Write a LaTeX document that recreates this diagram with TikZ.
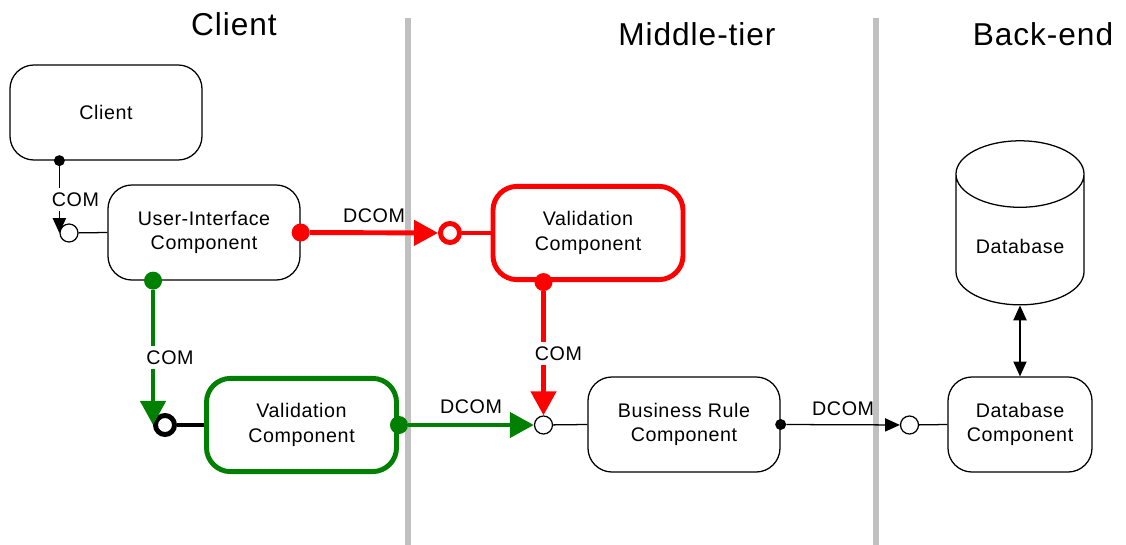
\documentclass[tikz,border=0pt]{standalone}
\usepackage{fontspec}
\setmainfont{Liberation Sans}[LetterSpace=3]
\usetikzlibrary{arrows.meta,shapes.geometric}
\definecolor{valred}{RGB}{255,0,0}
\definecolor{valgreen}{RGB}{0,128,0}
\definecolor{tiergray}{RGB}{192,192,192}

\begin{document}
\begin{tikzpicture}[
    x=0.025cm, y=-0.025cm,
    box/.style={draw, line width=0.9pt, rounded corners=0.6cm, minimum width=4.8cm, minimum height=2.375cm, font=\fontsize{14}{17.5}\selectfont, align=center},
    hotbox/.style={box, line width=3.5pt, minimum width=4.75cm, minimum height=2.33cm},
    tier/.style={font=\fontsize{22.5}{27}\selectfont},
    sep/.style={draw=tiergray, line width=4.3pt},
    lolly/.style={circle, draw, fill=white, line width=0.9pt, minimum size=0.45cm, inner sep=0pt},
    biglolly/.style={lolly, line width=3.5pt, minimum size=0.475cm},
    ball/.style={circle, fill, minimum size=0.275cm, inner sep=0pt},
    bigball/.style={ball, minimum size=0.45cm},
    lbl/.style={font=\fontsize{14}{17}\selectfont},
    wire/.style={line width=0.9pt},
    hotwire/.style={line width=3.5pt},
    comarrow/.style={wire, -{Triangle[length=0.37cm, width=0.33cm]}},
    hotarrow/.style={hotwire, -{Triangle[length=0.6cm, width=0.62cm]}},
]
\useasboundingbox (0,0) rectangle (1126,545);

% tiers
\draw[sep] (408,18) -- (408,545);
\draw[sep] (876,18) -- (876,545);
\node[tier] (hclient) at (234,24) {Client};
\node[tier] (hmiddle) at (697,34) {Middle-tier};
\node[tier] (hback) at (1043,34) {Back-end};

% components
\node[box] (client) at (106,112.5) {Client};
\node[box] (ui) at (204,232.5) {User-Interface\\Component};
\node[hotbox, draw=valred] (valmid) at (588,233) {Validation\\Component};
\node[hotbox, draw=valgreen] (valcli) at (301.5,425) {Validation\\Component};
\node[box] (rule) at (684,424.5) {Business Rule\\Component};
\node[box, minimum width=3.6cm] (dbcomp) at (1020,424.5) {Database\\Component};
\node[cylinder, draw, line width=0.9pt, shape border rotate=90, aspect=0.68, minimum height=4.1cm, minimum width=3.2cm, font=\fontsize{14}{17}\selectfont] (db) at (1020,246) {Database};

% interfaces
\node[lolly] (sockcli) at (69,233) {};
\node[biglolly, draw=valred] (sockred) at (450,233) {};
\node[biglolly] (sockgreen) at (165,425) {};
\node[lolly] (sockrule) at (543.5,425) {};
\node[lolly] (sockdb) at (909.5,425) {};

\node[ball] (plugcli) at (client.south -| sockcli.west) {};
\node[bigball, fill=valred] (plugui) at (ui.east) {};
\node[bigball, fill=valgreen] (plugdown) at (ui.south -| sockgreen.west) {};
\node[bigball, fill=valred] (plugval) at (valmid.south -| sockrule.north) {};
\node[bigball, fill=valgreen] (plugvalcli) at (valcli.east) {};
\node[ball] (plugrule) at (rule.east) {};

% connections
\draw[comarrow] (plugcli) -- node[lbl, fill=white, xshift=0.4cm] {COM} (plugcli |- sockcli.west);
\draw[wire] (sockcli) -- (ui.west);
\draw[hotarrow, valred] (plugui) -- node[lbl, above=0.08cm, text=black] {DCOM} (sockred);
\draw[hotwire, valred] (sockred) -- (valmid.west);
\draw[hotarrow, valred] (plugval) -- node[lbl, fill=white, text=black, xshift=0.375cm] {COM} (sockrule);
\draw[hotarrow, valgreen] (plugdown) -- node[lbl, fill=white, text=black, xshift=0.425cm] {COM} (plugdown |- sockgreen.west);
\draw[hotwire] (sockgreen) -- (valcli.west);
\draw[hotarrow, valgreen] (plugvalcli) -- node[lbl, above=0.1cm, text=black] {DCOM} (sockrule);
\draw[wire] (sockrule) -- (rule.west);
\draw[comarrow] (plugrule) -- node[lbl, above=0.1cm] {DCOM} (sockdb);
\draw[wire] (sockdb) -- (dbcomp.west);
\draw[wire, {Triangle[length=0.37cm, width=0.33cm]}-{Triangle[length=0.37cm, width=0.33cm]}] (db) -- (dbcomp);
\end{tikzpicture}
\end{document}
